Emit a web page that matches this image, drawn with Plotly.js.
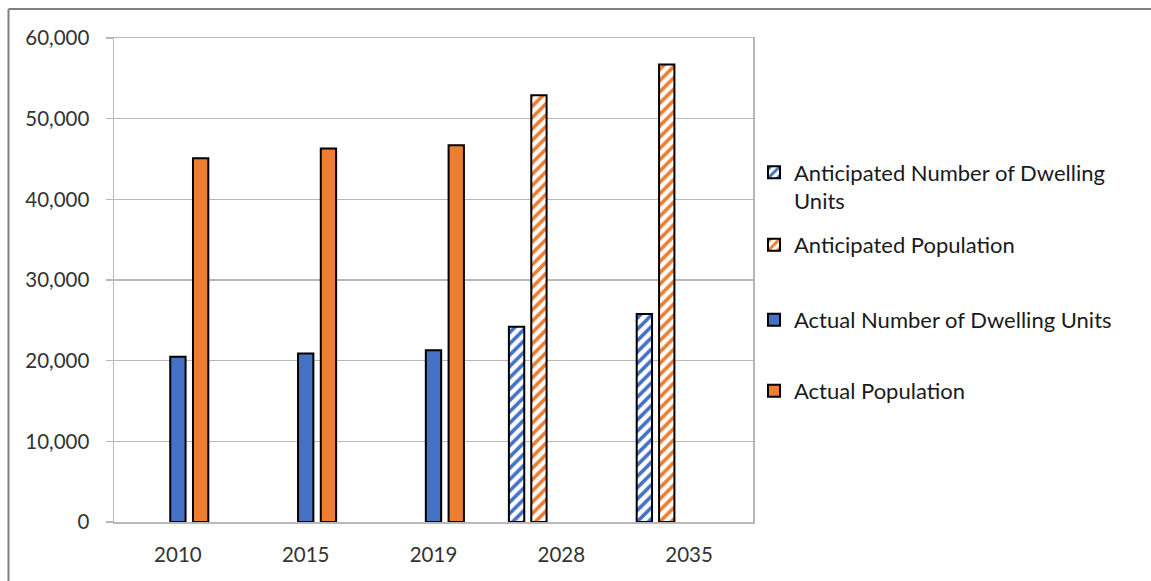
<!DOCTYPE html>
<html>
<head>
<meta charset="utf-8">
<script src="https://cdn.plot.ly/plotly-3.0.1.min.js"></script>
<style>html,body{margin:0;padding:0;background:#fff;}#chart{width:1151px;height:581px;}</style>
</head>
<body>
<div id="chart"></div>
<script>
// ---- data ----
const years = ["2010", "2015", "2019", "2028", "2035"];
const anticipatedDwelling = [null, null, null, 24200, 25800];
const anticipatedPopulation = [null, null, null, 52900, 56700];
const actualDwelling = [20500, 20900, 21300, null, null];
const actualPopulation = [45100, 46300, 46700, null, null];
const seriesNames = [
  "Anticipated Number of Dwelling<br>Units",
  "Anticipated Population",
  "Actual Number of Dwelling Units",
  "Actual Population"
];

const BLUE = "#4472C4", ORANGE = "#ED7D31";
const barW = 0.12;
const outline = {color: "#000000", width: 2};

function hatched(col) {
  return {color: "#ffffff", line: outline,
    pattern: {shape: "/", fgcolor: col, bgcolor: "#ffffff", size: 8, solidity: 0.45, fillmode: "replace"}};
}

const traces = [
  {type: "bar", x: years, y: anticipatedDwelling, name: seriesNames[0], legend: "legend",
   marker: hatched(BLUE), width: barW, offset: -0.35 - barW / 2},
  {type: "bar", x: years, y: anticipatedPopulation, name: seriesNames[1], legend: "legend2",
   marker: hatched(ORANGE), width: barW, offset: -0.175 - barW / 2},
  {type: "bar", x: years, y: actualDwelling, name: seriesNames[2], legend: "legend3",
   marker: {color: BLUE, line: outline}, width: barW, offset: 0 - barW / 2},
  {type: "bar", x: years, y: actualPopulation, name: seriesNames[3], legend: "legend4",
   marker: {color: ORANGE, line: outline}, width: barW, offset: 0.178 - barW / 2}
];

const FONT = "Lato, 'Open Sans', sans-serif";
const GRID = "#b8b8b8";
function leg(yPx) {
  return {xref: "container", yref: "container", x: 754 / 1151, xanchor: "left",
    y: 1 - yPx / 581, yanchor: "middle", valign: "top", bgcolor: "rgba(0,0,0,0)",
    font: {family: FONT, size: 22, color: "#1a1a1a"}};
}

const layout = {
  width: 1151, height: 581,
  margin: {l: 114, r: 398, t: 38, b: 59},
  paper_bgcolor: "#ffffff", plot_bgcolor: "#ffffff",
  font: {family: FONT, size: 20, color: "#333333"},
  showlegend: true,
  legend: leg(187),
  legend2: leg(245),
  legend3: leg(320),
  legend4: leg(391),
  xaxis: {type: "category", range: [-0.5, 4.5], showgrid: false, ticks: "",
    showline: true, linecolor: GRID, linewidth: 1.5, mirror: true,
    tickfont: {family: FONT, size: 20.5, color: "#333333"}, ticklabelstandoff: 14, fixedrange: true},
  yaxis: {range: [0, 60000], dtick: 10000, tickformat: ",", showgrid: true,
    gridcolor: GRID, gridwidth: 1.5, zeroline: false,
    showline: true, linecolor: GRID, linewidth: 1.5, mirror: true,
    ticks: "outside", ticklen: 7, tickcolor: GRID, tickwidth: 1.5,
    tickfont: {family: FONT, size: 20.5, color: "#333333"}, ticklabelstandoff: 12, fixedrange: true},
  shapes: [
    {type: "line", xref: "paper", yref: "paper", x0: (8.5 - 114) / 639, x1: 2, y0: (522 - 9) / 484, y1: (522 - 9) / 484,
     line: {color: "#808080", width: 2}},
    {type: "line", xref: "paper", yref: "paper", x0: (8.5 - 114) / 639, x1: (8.5 - 114) / 639, y0: (522 - 9) / 484, y1: -1,
     line: {color: "#808080", width: 2}}
  ]
};

Plotly.newPlot("chart", traces, layout, {displayModeBar: false, staticPlot: true});
</script>
</body>
</html>
